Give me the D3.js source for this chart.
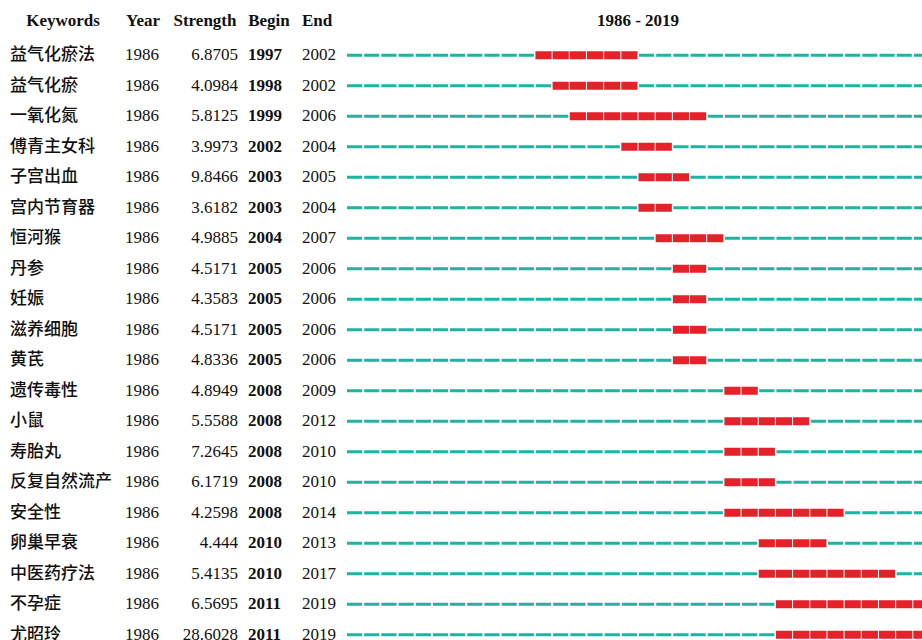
<!DOCTYPE html>
<html>
<head>
<meta charset="utf-8">
<script src="https://cdn.jsdelivr.net/npm/d3@7"></script>
<style>
  body { margin: 0; background: #fff; }
  svg text { font-family: "Liberation Serif", "Times New Roman", serif; font-size: 17px; fill: #111; }
  svg text.kw { font-family: "Noto Sans CJK SC", sans-serif; font-size: 17px; font-weight: 500; }
</style>
</head>
<body>
<div id="chart"></div>
<script>
// burst keywords
const keywords = ["益气化瘀法", "益气化瘀", "一氧化氮", "傅青主女科", "子宫出血", "宫内节育器", "恒河猴", "丹参", "妊娠", "滋养细胞",
    "黄芪", "遗传毒性", "小鼠", "寿胎丸", "反复自然流产", "安全性", "卵巢早衰", "中医药疗法", "不孕症", "尤昭玲"];
const years = [1986, 1986, 1986, 1986, 1986, 1986, 1986, 1986, 1986, 1986,
    1986, 1986, 1986, 1986, 1986, 1986, 1986, 1986, 1986, 1986];
const strengths = ["6.8705", "4.0984", "5.8125", "3.9973", "9.8466", "3.6182", "4.9885", "4.5171", "4.3583", "4.5171",
    "4.8336", "4.8949", "5.5588", "7.2645", "6.1719", "4.2598", "4.444", "5.4135", "6.5695", "28.6028"];
const begins = [1997, 1998, 1999, 2002, 2003, 2003, 2004, 2005, 2005, 2005,
    2005, 2008, 2008, 2008, 2008, 2008, 2010, 2010, 2011, 2011];
const ends = [2002, 2002, 2006, 2004, 2005, 2004, 2007, 2006, 2006, 2006,
    2006, 2009, 2012, 2010, 2010, 2014, 2013, 2017, 2019, 2019];
const headers = ["Keywords", "Year", "Strength", "Begin", "End"];
const firstYear = 1986, lastYear = 2019;

const width = 922, height = 640;

const svg = d3.select("#chart").append("svg")
    .attr("width", width)
    .attr("height", height);

const rows = keywords.map((k, i) => ({
    keyword: k, year: years[i], strength: strengths[i], begin: begins[i], end: ends[i]
}));

// row positions
const y = d3.scaleBand()
    .domain(d3.range(rows.length))
    .range([40, 650])
    .paddingInner(0);

// timeline
const x = d3.scaleLinear()
    .domain([firstYear, lastYear + 1])
    .range([346, 930]);

const allYears = d3.range(firstYear, lastYear + 1);
const step = x(firstYear + 1) - x(firstYear);

// header
const headerX = [63, 143, 205, 269, 317];
svg.append("g").selectAll("text")
    .data(headers)
    .enter()
    .append("text")
    .attr("x", (d, i) => headerX[i])
    .attr("y", 26)
    .attr("text-anchor", "middle")
    .style("font-weight", "bold")
    .text(d => d);

svg.append("text")
    .attr("x", 638)
    .attr("y", 26)
    .attr("text-anchor", "middle")
    .style("font-weight", "bold")
    .text(firstYear + " - " + lastYear);

const row = svg.append("g").selectAll("g")
    .data(rows)
    .enter()
    .append("g")
    .attr("transform", (d, i) => "translate(0," + (y(i) + y.bandwidth() / 2) + ")");

row.append("text").attr("class", "kw").attr("x", 10).attr("dy", "0.3em").text(d => d.keyword);
row.append("text").attr("x", 125).attr("dy", "0.3em").text(d => d.year);
row.append("text").attr("x", 238).attr("dy", "0.3em").attr("text-anchor", "end").text(d => d.strength);
row.append("text").attr("x", 248).attr("dy", "0.3em").style("font-weight", "bold").text(d => d.begin);
row.append("text").attr("x", 302).attr("dy", "0.3em").text(d => d.end);

// one segment per year, red while the burst lasts
row.each(function(d) {
    const inBurst = yr => yr >= d.begin && yr <= d.end;
    d3.select(this).selectAll("rect")
        .data(allYears)
        .enter()
        .append("rect")
        .attr("x", yr => x(yr) + (inBurst(yr) ? 0.5 : 1))
        .attr("width", yr => step - (inBurst(yr) ? 1 : 2))
        .attr("y", yr => inBurst(yr) ? -4 : -1.5)
        .attr("height", yr => inBurst(yr) ? 8 : 3)
        .attr("fill", yr => inBurst(yr) ? "#e52129" : "#1fb3a3");
});
</script>
</body>
</html>
